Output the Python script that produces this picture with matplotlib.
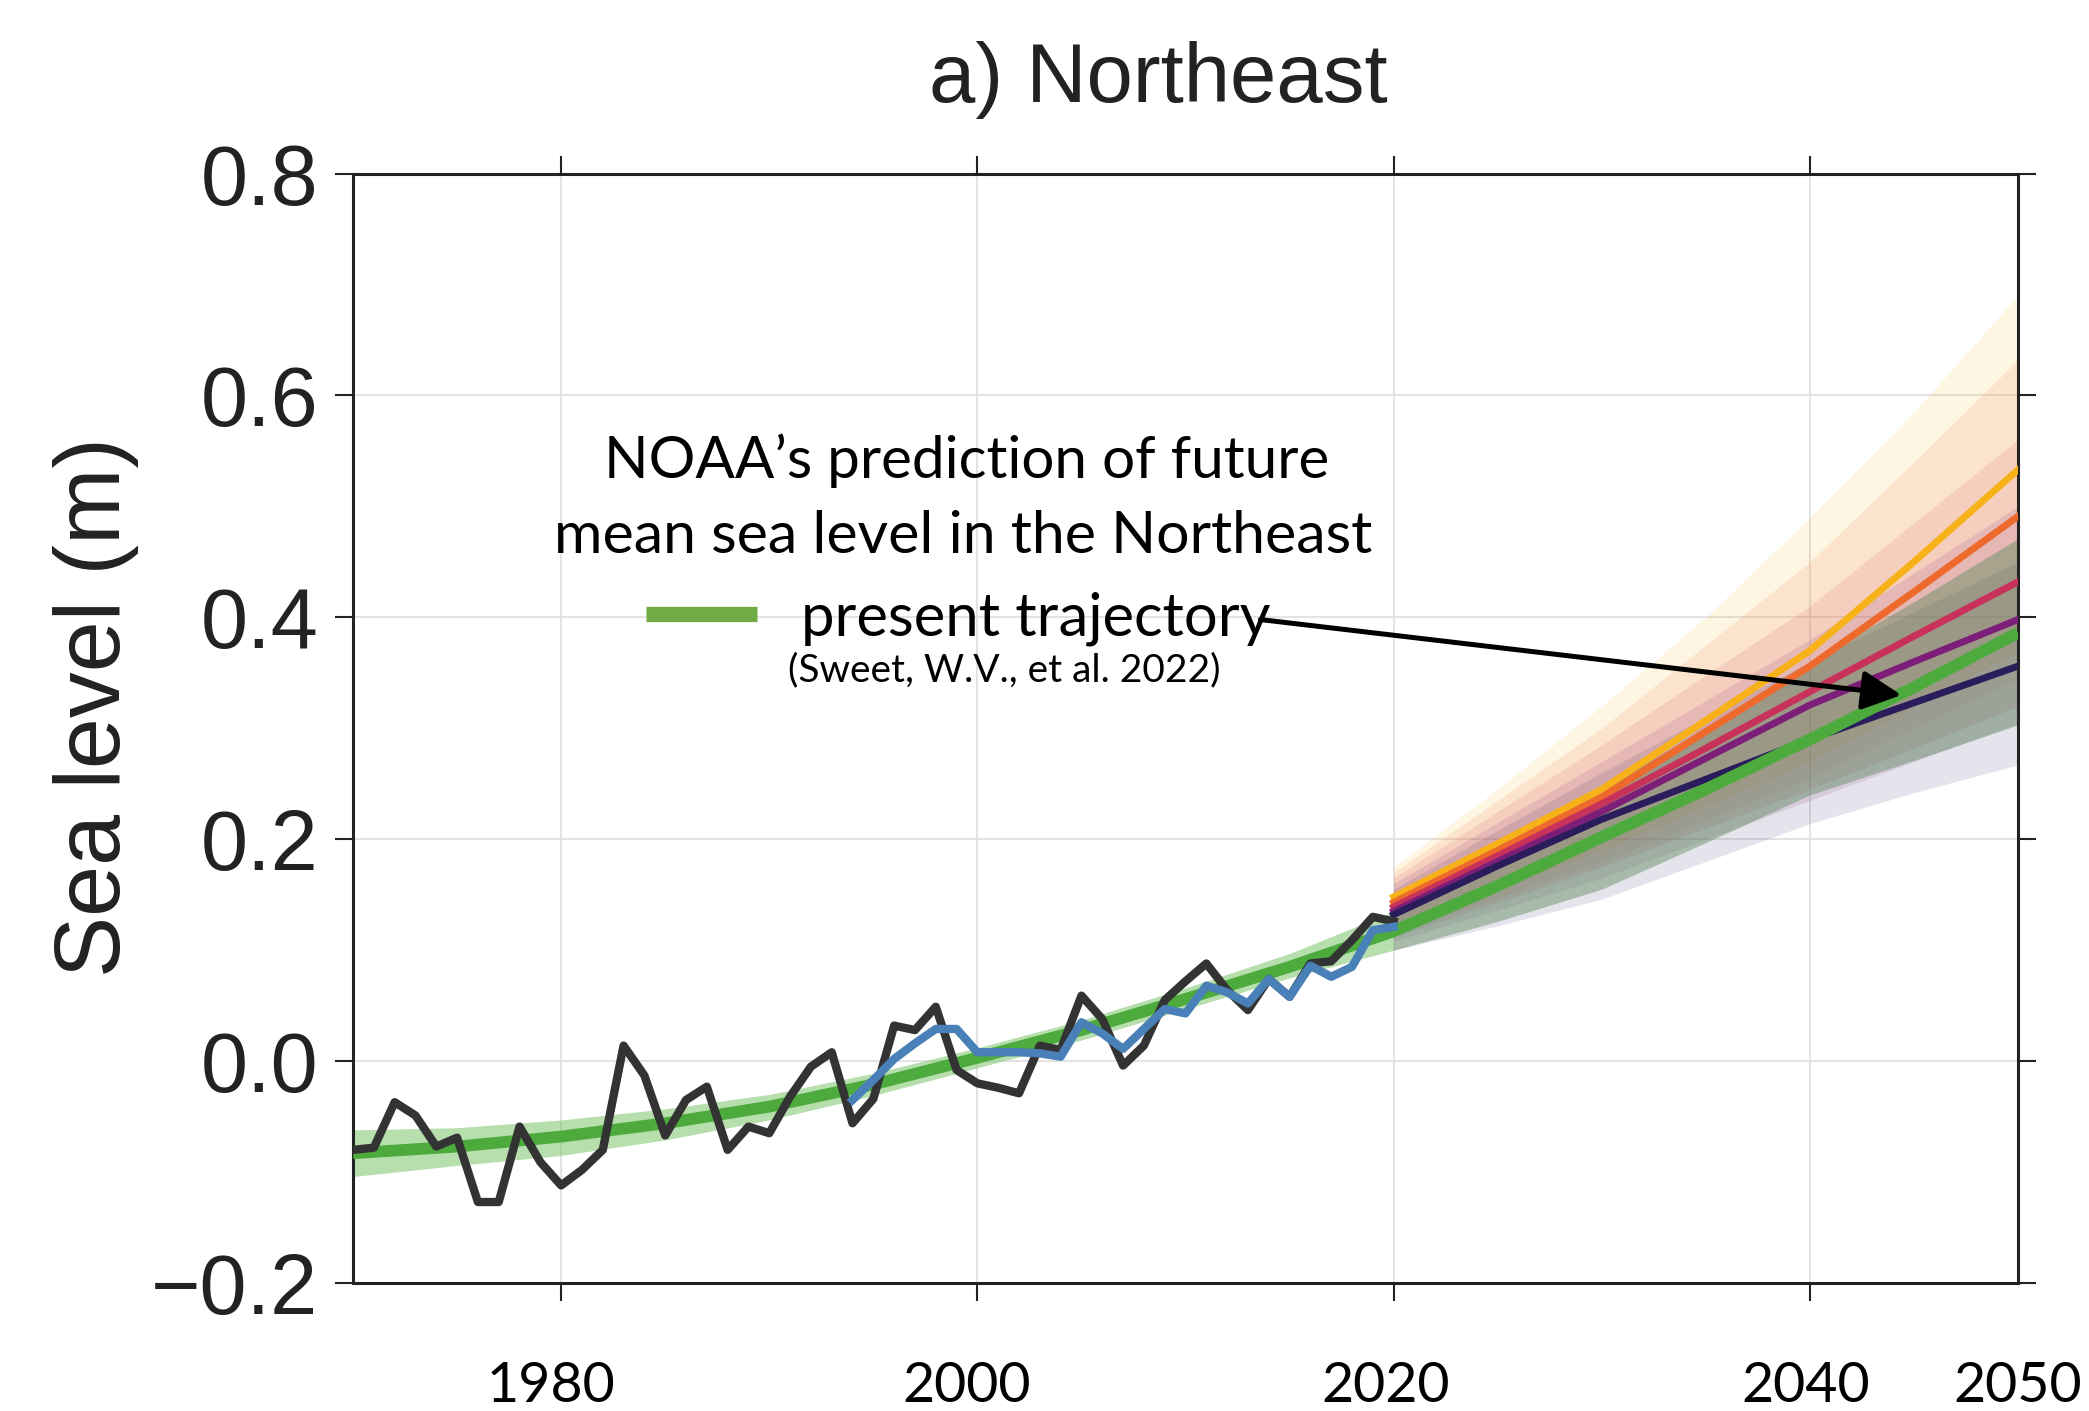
import matplotlib
matplotlib.use("Agg")
import matplotlib.pyplot as plt
from matplotlib.lines import Line2D
from matplotlib.transforms import blended_transform_factory

# --- observed annual mean sea level (tide gauges), m ---
obs_years = list(range(1970, 2021))
obs_level = [-0.080, -0.078, -0.037, -0.049, -0.077, -0.069, -0.127, -0.127, -0.059, -0.091,
             -0.112, -0.098, -0.080, 0.014, -0.013, -0.067, -0.035, -0.023, -0.080, -0.059,
             -0.065, -0.032, -0.005, 0.008, -0.056, -0.034, 0.032, 0.028, 0.049, -0.008,
             -0.020, -0.024, -0.029, 0.014, 0.010, 0.059, 0.038, -0.004, 0.014, 0.055,
             0.072, 0.088, 0.064, 0.046, 0.074, 0.058, 0.088, 0.090, 0.109, 0.130, 0.126]

# --- altimetry-era series ---
alt_years = list(range(1994, 2021))
alt_level = [-0.035, -0.017, 0.002, 0.016, 0.029, 0.029, 0.008, 0.008, 0.008, 0.007,
             0.004, 0.035, 0.025, 0.011, 0.029, 0.047, 0.043, 0.068, 0.062, 0.052,
             0.074, 0.058, 0.086, 0.076, 0.085, 0.118, 0.121]

# --- present trajectory (green) with its band ---
traj_years = [1970, 1975, 1980, 1985, 1990, 1995, 2000, 2005, 2010, 2015, 2020,
              2025, 2030, 2035, 2040, 2045, 2050]
traj_mid = [-0.083, -0.077, -0.068, -0.056, -0.041, -0.021, 0.003, 0.028, 0.056, 0.085, 0.117,
            0.158, 0.202, 0.245, 0.290, 0.337, 0.386]
traj_lo = [-0.104, -0.094, -0.085, -0.071, -0.053, -0.031, -0.006, 0.019, 0.047, 0.075, 0.100,
           0.126, 0.155, 0.197, 0.240, 0.271, 0.303]
traj_hi = [-0.062, -0.060, -0.053, -0.043, -0.030, -0.011, 0.012, 0.037, 0.066, 0.097, 0.135,
           0.188, 0.245, 0.300, 0.360, 0.414, 0.471]

# --- NOAA 2022 scenarios ---
scen_years = [2020, 2025, 2030, 2035, 2040, 2045, 2050]
low_mid = [0.132, 0.176, 0.218, 0.254, 0.290, 0.323, 0.356]
low_lo = [0.100, 0.122, 0.146, 0.180, 0.214, 0.242, 0.267]
low_hi = [0.155, 0.208, 0.260, 0.310, 0.360, 0.405, 0.450]
intlow_mid = [0.135, 0.180, 0.225, 0.273, 0.321, 0.360, 0.398]
intlow_lo = [0.108, 0.136, 0.165, 0.200, 0.235, 0.270, 0.305]
intlow_hi = [0.160, 0.215, 0.270, 0.325, 0.380, 0.440, 0.500]
int_mid = [0.139, 0.185, 0.232, 0.282, 0.333, 0.383, 0.432]
int_lo = [0.112, 0.143, 0.175, 0.210, 0.245, 0.282, 0.320]
int_hi = [0.165, 0.225, 0.285, 0.348, 0.410, 0.485, 0.560]
inthigh_mid = [0.143, 0.190, 0.238, 0.297, 0.356, 0.423, 0.491]
inthigh_lo = [0.115, 0.147, 0.180, 0.217, 0.255, 0.300, 0.345]
inthigh_hi = [0.170, 0.235, 0.300, 0.375, 0.450, 0.540, 0.632]
high_mid = [0.148, 0.196, 0.245, 0.307, 0.370, 0.450, 0.533]
high_lo = [0.120, 0.155, 0.190, 0.230, 0.270, 0.320, 0.370]
high_hi = [0.175, 0.245, 0.320, 0.400, 0.490, 0.585, 0.690]

scenarios = [
    (high_lo, high_hi, high_mid, "#f7b21a"),
    (inthigh_lo, inthigh_hi, inthigh_mid, "#ee6a2c"),
    (int_lo, int_hi, int_mid, "#c8325a"),
    (intlow_lo, intlow_hi, intlow_mid, "#7d1f78"),
    (low_lo, low_hi, low_mid, "#2a1d5c"),
]

xticks = [1980, 2000, 2020, 2040]
xlabels = ["1980", "2000", "2020", "2040", "2050"]
xlabel_pos = [1979.5, 1999.5, 2019.6, 2039.8, 2050.0]
yticks = [-0.2, 0.0, 0.2, 0.4, 0.6, 0.8]
ytick_labels = ["\u22120.2", "0.0", "0.2", "0.4", "0.6", "0.8"]

plt.rcParams["font.family"] = ["Liberation Sans", "DejaVu Sans"]
ann_font = ["Lato", "DejaVu Sans"]

fig = plt.figure(figsize=(20.89, 14.11), dpi=100)
ax = fig.add_axes([0.169, 0.0907, 0.797, 0.7863])

green = "#4dab3e"
split = traj_years.index(2020)

# bands
for lo, hi, mid, col in scenarios:
    ax.fill_between(scen_years, lo, hi, color=col, alpha=0.12, lw=0, zorder=1)
ax.fill_between(traj_years[:split + 1], traj_lo[:split + 1], traj_hi[:split + 1],
                color="#7cc46a", alpha=0.55, lw=0, zorder=1.5)
ax.fill_between(traj_years[split:], traj_lo[split:], traj_hi[split:],
                color="#5e8a5c", alpha=0.45, lw=0, zorder=1.5)

# scenario lines
for lo, hi, mid, col in scenarios:
    ax.plot(scen_years, mid, color=col, lw=5, zorder=3)

ax.plot(traj_years, traj_mid, color=green, lw=8.5, zorder=4, solid_capstyle="butt")
ax.plot(obs_years, obs_level, color="#333333", lw=6, zorder=5)
ax.plot(alt_years, alt_level, color="#4a80b8", lw=6, zorder=6)

ax.set_xlim(1970, 2050)
ax.set_ylim(-0.2, 0.8)
ax.set_xticks(xticks)
ax.set_xticklabels([])
ax.set_yticks(yticks)
ax.set_yticklabels(ytick_labels, fontsize=61)
ax.grid(True, color="#e0e0e0", lw=1.3, zorder=0)
ax.set_axisbelow(True)
ax.tick_params(direction="out", length=13, width=1.5, top=True, right=True,
               pad=12, colors="#222222")
for sp in ax.spines.values():
    sp.set_linewidth(2.2)
    sp.set_color("#222222")

# year labels, placed in a row below the axis
row = blended_transform_factory(ax.transData, fig.transFigure)
for x, lbl in zip(xlabel_pos, xlabels):
    ax.text(x, 1 - 1386 / 1411, lbl, transform=row, ha="center", va="center",
            fontsize=40, family=ann_font)

fig.text(96 / 2089, 0.499, "Sea level (m)", rotation=90, ha="center", va="center",
         fontsize=66, color="#222222")
fig.text(1158 / 2089, 0.943, "a) Northeast", ha="center", va="center", fontsize=60,
         color="#222222")

# annotation
ax.text(1999.5, 0.541, "NOAA\u2019s prediction of future", ha="center", va="center",
        fontsize=42, family=ann_font, zorder=10)
ax.text(1999.3, 0.473, "mean sea level in the Northeast", ha="center", va="center",
        fontsize=42.5, family=ann_font, zorder=10)
ax.text(2001.3, 0.352, "(Sweet, W.V., et al. 2022)", ha="center", va="center",
        fontsize=28, family=ann_font, zorder=10)
ax.legend(handles=[Line2D([], [], color="#70ad47", lw=11, solid_capstyle="butt")],
          labels=["present trajectory"], loc="center left",
          bbox_to_anchor=(0.176, 0.599), frameon=False, borderpad=0,
          borderaxespad=0, handlelength=1.85, handletextpad=0.75,
          prop={"family": ann_font, "size": 43})
ax.annotate("", xy=(2044.4, 0.330), xytext=(2013.6, 0.398),
            arrowprops=dict(arrowstyle="-|>,head_length=0.6,head_width=0.3", lw=3.6,
                            color="black", mutation_scale=40, shrinkA=0, shrinkB=0),
            zorder=11)

fig.savefig("out.png", dpi=100)
